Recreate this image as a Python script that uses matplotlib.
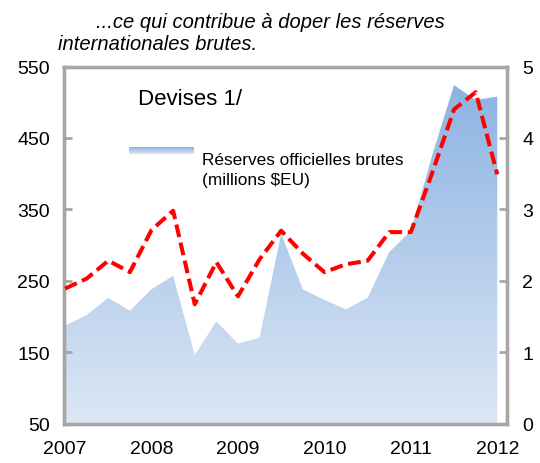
import numpy as np
import matplotlib
matplotlib.use("Agg")
import matplotlib.pyplot as plt
from matplotlib.colors import LinearSegmentedColormap

plt.rcParams['font.family'] = ['Liberation Sans', 'DejaVu Sans']

# quarterly data, 2007T1 .. 2012T1
reserves = [187, 202, 226, 208, 238, 257, 146, 193, 162, 170, 316, 238,
            223, 210, 226, 290, 320, 427, 524, 503, 508]
devises = [1.89, 2.03, 2.28, 2.12, 2.71, 2.98, 1.67, 2.26, 1.78, 2.30, 2.70,
           2.38, 2.12, 2.23, 2.28, 2.68, 2.68, 3.52, 4.40, 4.64, 3.49]
year_labels = ['2007', '2008', '2009', '2010', '2011', '2012']

x = np.arange(len(reserves))

fig = plt.figure(figsize=(5.4, 4.64), dpi=100)
ax = fig.add_axes([64 / 540, 1 - 424.5 / 464, 443 / 540, 357 / 464])
ax2 = ax.twinx()

# gradient filled area
poly = ax.fill_between(x, 50, reserves, facecolor='none', edgecolor='none')
cmap = LinearSegmentedColormap.from_list('grad', ['#dce7f5', '#8db3e2'])
grad = np.linspace(0, 1, 256).reshape(-1, 1)
img = ax.imshow(grad, cmap=cmap, origin='lower', aspect='auto',
                extent=[x[0], x[-1], 50, max(reserves)], zorder=1)
img.set_clip_path(poly.get_paths()[0], transform=ax.transData)
ax.set_xlim(-0.05, 20.45)
ax.set_ylim(50, 550)
ax2.set_ylim(0, 5)

ax2.plot(x, devises, color='#ff0000', lw=2.9, dashes=(3.2, 1.4),
         dash_capstyle='butt', zorder=3)

frame_col = '#a6a6a6'
for a in (ax, ax2):
    for s in a.spines.values():
        s.set_color(frame_col)
        s.set_linewidth(2.4)

ax.set_yticks(np.arange(50, 551, 100))
ax2.set_yticks(np.arange(0, 6, 1))
ax.tick_params(axis='y', direction='in', length=6, width=2, color=frame_col,
               labelsize=14, pad=10)
ax2.tick_params(axis='y', direction='in', length=6, width=2, color=frame_col,
                labelsize=14, pad=11)
ax.set_xticks(np.arange(0, 21, 4))
ax.set_xticklabels(year_labels)
ax.tick_params(axis='x', length=0, labelsize=14, pad=12)

fig.text(96 / 540, 1 - 22.5 / 464, '...ce qui contribue à doper les réserves',
         fontsize=14.5, style='italic', va='center')
fig.text(58 / 540, 1 - 44.5 / 464, 'internationales brutes.', fontsize=14.5,
         style='italic', va='center')

ax.text((138 - 64) / 443, (424.5 - 105) / 357, 'Devises 1/',
        transform=ax.transAxes, fontsize=16, va='baseline')

# legend
lg = np.linspace(0, 1, 64).reshape(-1, 1)
lax = fig.add_axes([129 / 540, 1 - 155 / 464, 65 / 540, 7 / 464])
lax.imshow(lg, cmap=cmap, aspect='auto', origin='lower')
lax.axis('off')
fig.text(202 / 540, 1 - 165 / 464, 'Réserves officielles brutes',
         fontsize=12.4, va='baseline')
fig.text(202 / 540, 1 - 185 / 464, '(millions $EU)', fontsize=12.4,
         va='baseline')

fig.savefig('out.png', dpi=100)
